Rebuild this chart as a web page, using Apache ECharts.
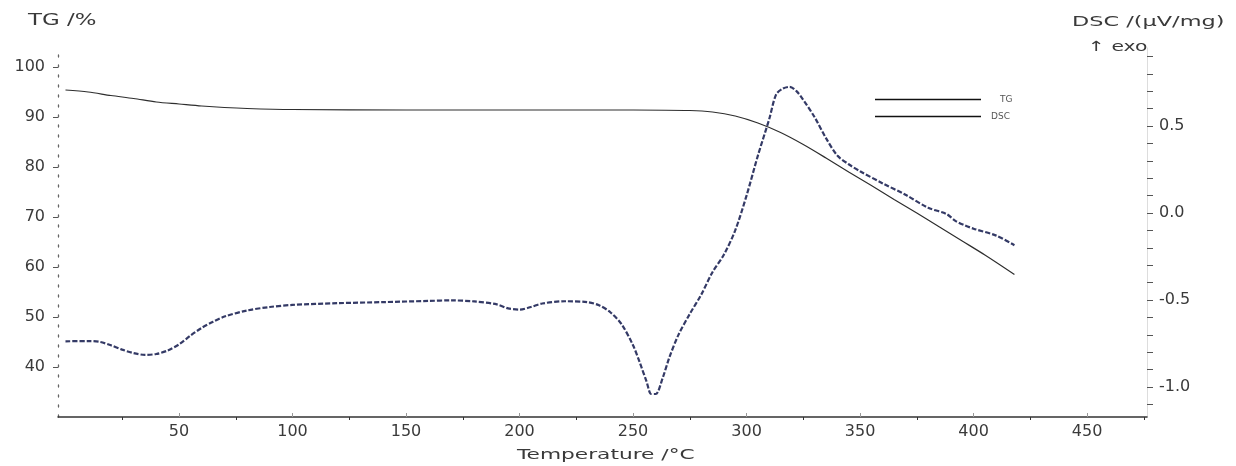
<!DOCTYPE html>
<html>
<head>
<meta charset="utf-8">
<title>TG / DSC</title>
<script src="https://cdn.jsdelivr.net/npm/echarts@6/dist/echarts.min.js"></script>
<style>
  html, body { margin: 0; padding: 0; background: #fff; }
  #chart { width: 1236px; height: 466px; }
</style>
</head>
<body>
<div id="chart"></div>
<script>
// temperature (°C) and TG (%)
const tgTemp = [0, 10, 20, 30, 40, 50, 60, 70, 80, 100, 150, 200, 250, 275, 285, 295, 305, 315, 325, 335, 345, 355, 365, 375, 385, 395, 405, 418]
const tgVal = [95.4, 95.0, 94.3, 93.7, 93.0, 92.6, 92.2, 91.9, 91.7, 91.5, 91.4, 91.4, 91.4, 91.3, 91.0, 90.2, 88.8, 86.9, 84.5, 81.8, 79.0, 76.3, 73.5, 70.8, 68.0, 65.2, 62.4, 58.5]

// temperature (°C) and DSC (µV/mg)
const dscTemp = [0, 10, 15, 20, 25, 30, 35, 40, 45, 50, 55, 60, 65, 70, 80, 90, 100, 120, 140, 160, 170, 180, 190, 195, 200, 205, 210, 220, 230, 235, 240, 245, 250, 253, 256, 258, 260, 263, 266, 270, 275, 280, 285, 290, 295, 300, 305, 310, 313, 316, 319, 322, 325, 330, 335, 340, 345, 350, 360, 370, 380, 388, 392, 396, 400, 410, 418]
const dscVal = [-0.737, -0.736, -0.740, -0.760, -0.785, -0.805, -0.815, -0.810, -0.790, -0.755, -0.705, -0.660, -0.625, -0.595, -0.560, -0.540, -0.528, -0.518, -0.512, -0.505, -0.502, -0.508, -0.525, -0.548, -0.555, -0.540, -0.520, -0.507, -0.512, -0.530, -0.570, -0.640, -0.760, -0.860, -0.970, -1.040, -1.040, -0.950, -0.830, -0.700, -0.580, -0.470, -0.340, -0.240, -0.100, 0.100, 0.330, 0.540, 0.680, 0.715, 0.725, 0.700, 0.650, 0.550, 0.430, 0.330, 0.280, 0.240, 0.170, 0.105, 0.030, -0.005, -0.045, -0.070, -0.090, -0.130, -0.185]

// tick labels
const tempLabels = [50, 100, 150, 200, 250, 300, 350, 400, 450]
const tempMinor = [25, 75, 125, 175, 225, 275, 325, 375, 425, 475]
const tgLabels = [40, 50, 60, 70, 80, 90, 100]
const dscLabels = [-1.0, -0.5, 0.0, 0.5]
const dscTicks = [-1.1, -1.0, -0.9, -0.8, -0.7, -0.6, -0.5, -0.4, -0.3, -0.2, -0.1, 0.0, 0.1, 0.2, 0.3, 0.4, 0.5, 0.6, 0.7, 0.8, 0.9]

const font = '"DejaVu Sans", "Liberation Sans", sans-serif'
const txtColor = '#3a3a3a'

let chart = echarts.init(document.getElementById('chart'))

// the original picture is stretched sideways, so the free texts get a scaleX
function stretchedText (x, y, text, size, sx) {
  return {
    type: 'text',
    x: x,
    y: y,
    scaleX: sx,
    style: { text: text, font: size + 'px ' + font, fill: txtColor, textVerticalAlign: 'middle' }
  }
}

let option = {
  animation: false,
  backgroundColor: '#fff',
  textStyle: { fontFamily: font },
  grid: { left: 58, right: 89, top: 48, bottom: 49 },
  legend: {
    orient: 'vertical',
    left: 870,
    top: 90,
    itemGap: 8,
    itemWidth: 106,
    itemHeight: 1.5,
    icon: 'rect',
    textStyle: { fontSize: 9, color: '#555', fontFamily: font },
    data: [
      // labels sit flush right in the original
      { name: 'TG', itemStyle: { color: '#111' }, textStyle: { padding: [0, 0, 0, 14] } },
      { name: 'DSC', itemStyle: { color: '#111' }, textStyle: { padding: [0, 0, 0, 5] } }
    ]
  },
  graphic: [
    stretchedText(28, 21, 'TG /%', 16, 1.43),
    stretchedText(1072, 22, 'DSC /(µV/mg)', 14, 1.6),
    stretchedText(1088, 47, '↑ exo', 14, 1.45),
    stretchedText(517, 455, 'Temperature /°C', 14, 1.55)
  ],
  xAxis: [
    {
      type: 'value',
      min: -3.3,
      max: 476.4,
      axisLine: { show: true, onZero: false, lineStyle: { color: '#333', width: 1.5 } },
      axisTick: { show: true, inside: true, length: 4, lineStyle: { color: '#999' }, customValues: tempLabels },
      axisLabel: { fontSize: 16, color: txtColor, margin: 7, customValues: tempLabels },
      splitLine: { show: false }
    },
    {
      // minor ticks under the axis line
      type: 'value',
      position: 'bottom',
      min: -3.3,
      max: 476.4,
      axisLine: { show: false, onZero: false },
      axisTick: { show: true, length: 3, lineStyle: { color: '#333' }, customValues: tempMinor },
      axisLabel: { show: false, customValues: tempMinor },
      splitLine: { show: false }
    }
  ],
  yAxis: [
    {
      type: 'value',
      position: 'left',
      min: 30,
      max: 103.8,
      axisLine: { show: true, onZero: false, lineStyle: { color: '#666', type: [2, 8], width: 1.3 } },
      axisTick: { show: true, length: 5, lineStyle: { color: '#555' }, customValues: tgLabels },
      axisLabel: { fontSize: 16, color: txtColor, margin: 13, customValues: tgLabels },
      splitLine: { show: false }
    },
    {
      type: 'value',
      position: 'right',
      min: -1.172,
      max: 0.948,
      axisLine: { show: true, onZero: false, lineStyle: { color: '#ddd', width: 1 } },
      axisTick: { show: true, length: 6, lineStyle: { color: '#555' }, customValues: dscTicks },
      axisLabel: {
        fontSize: 16,
        color: txtColor,
        margin: 12,
        customValues: dscLabels,
        formatter: v => v.toFixed(1)
      },
      splitLine: { show: false }
    }
  ],
  series: [
    {
      name: 'TG',
      type: 'line',
      xAxisIndex: 0,
      yAxisIndex: 0,
      smooth: 0.3,
      showSymbol: false,
      lineStyle: { color: '#2e2e2e', width: 1.2 },
      data: tgTemp.map((t, i) => [t, tgVal[i]])
    },
    {
      name: 'DSC',
      type: 'line',
      xAxisIndex: 0,
      yAxisIndex: 1,
      smooth: 0.3,
      showSymbol: false,
      lineStyle: { color: '#343a66', width: 2.2, type: [5, 2] },
      data: dscTemp.map((t, i) => [t, dscVal[i]])
    }
  ]
}

chart.setOption(option)
</script>
</body>
</html>
